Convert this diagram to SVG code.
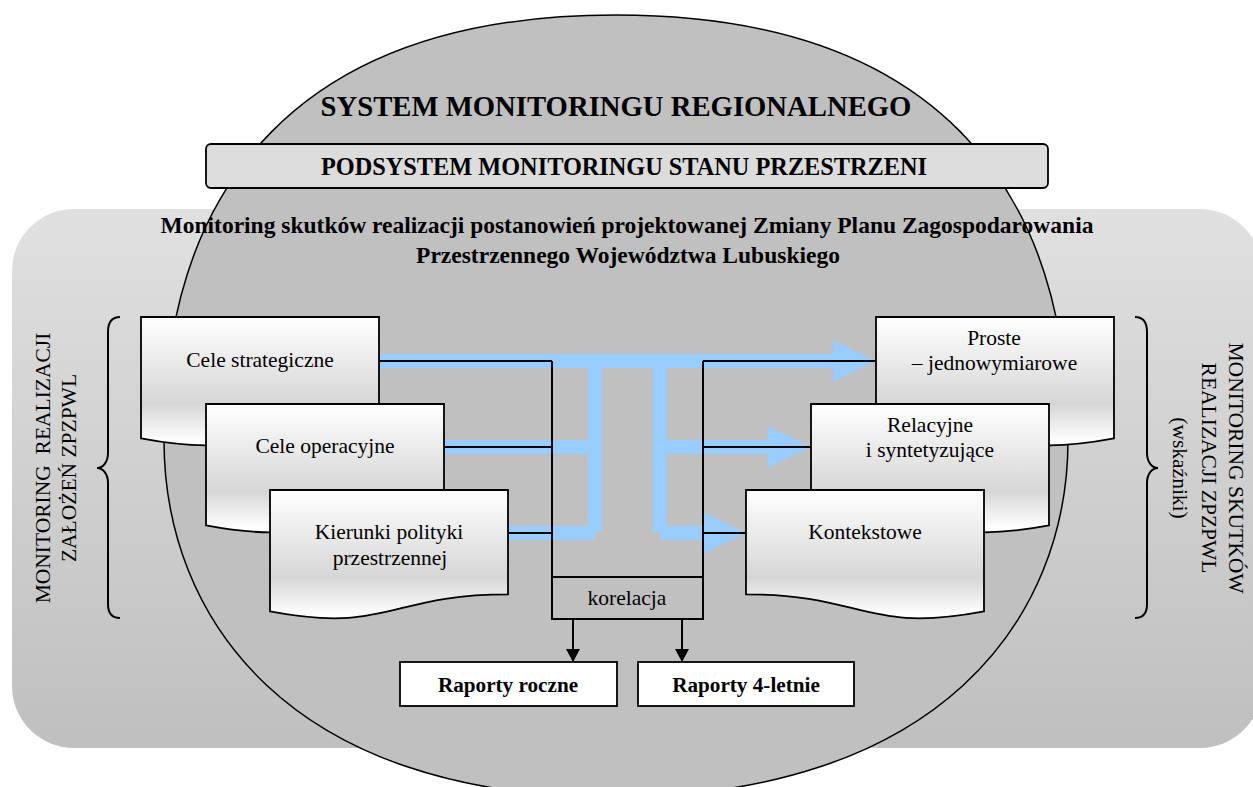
<svg xmlns="http://www.w3.org/2000/svg" width="1253" height="787" viewBox="0 0 1253 787">
<style>
text{font-family:"Liberation Serif","Times New Roman",serif;fill:#000}
.b{font-weight:bold}
.doc{stroke:#000;stroke-width:1.8;fill:url(#docg)}
.band{fill:#99ccff}
.ln{stroke:#000;stroke-width:2;fill:none}
.t{font-size:21.5px;text-anchor:middle}
.side{font-size:21.5px;text-anchor:middle;white-space:pre}
</style>
<defs>
<linearGradient id="bgg" x1="0" y1="0" x2="0" y2="1">
<stop offset="0" stop-color="#e0e0e0"/>
<stop offset="1" stop-color="#bfbfbf"/>
</linearGradient>
<linearGradient id="docg" x1="0" y1="0" x2="0" y2="1">
<stop offset="0" stop-color="#ffffff"/>
<stop offset="0.68" stop-color="#d6d6d6"/>
<stop offset="0.97" stop-color="#ffffff"/>
</linearGradient>
<marker id="ah" markerUnits="userSpaceOnUse" markerWidth="14" markerHeight="14" refX="13" refY="7" orient="auto">
<path d="M0,0 L13,7 L0,14 Z" fill="#000"/>
</marker>
</defs>

<g id="background">
<rect x="12" y="209" width="1250" height="539" rx="62" ry="62" fill="url(#bgg)"/>
<path d="M616,15 C932,15 1068,185 1068,440 C1068,618.5 940,797 612,797 C289,797 164,618.5 164,440 C164,185 300,15 616,15 Z" fill="#c0c0c0" stroke="#000" stroke-width="1.5"/>
</g>

<g id="title">
<text class="b" x="616" y="116" font-size="28.7" text-anchor="middle">SYSTEM MONITORINGU REGIONALNEGO</text>
</g>

<g id="podsystem">
<rect x="206" y="144" width="842" height="44" rx="5" ry="5" fill="#dcdcdc" stroke="#000" stroke-width="1.8"/>
<text class="b" x="624" y="175" font-size="24.3" text-anchor="middle">PODSYSTEM MONITORINGU STANU PRZESTRZENI</text>
</g>

<g id="heading">
<text class="b" x="627" y="233" font-size="23.5" text-anchor="middle">Monitoring skutków realizacji postanowień projektowanej Zmiany Planu Zagospodarowania</text>
<text class="b" x="628" y="263" font-size="23.5" text-anchor="middle">Przestrzennego Województwa Lubuskiego</text>
</g>

<g id="connectors">
<rect class="band" x="379" y="354" width="454" height="14"/>
<rect class="band" x="588" y="354" width="14" height="178"/>
<rect class="band" x="653" y="354" width="14" height="178"/>
<rect class="band" x="444" y="440" width="144" height="14"/>
<rect class="band" x="508" y="526" width="87" height="14"/>
<rect class="band" x="667" y="440" width="101" height="14"/>
<rect class="band" x="660" y="526" width="43" height="14"/>
<polygon class="band" points="833,340 876,361 833,382"/>
<polygon class="band" points="768,426 811,447 768,468"/>
<polygon class="band" points="703,512 746,533 703,554"/>
<path class="ln" d="M379,361 H552 M444,447 H552 M508,533 H552 M703,361 H876 M703,447 H811 M703,533 H746"/>
<path class="ln" d="M552,361 V619 H703 V361 M552,577 H703"/>
<line class="ln" x1="573" y1="619" x2="573" y2="662" marker-end="url(#ah)"/>
<line class="ln" x1="682" y1="619" x2="682" y2="662" marker-end="url(#ah)"/>
<path class="ln" stroke-width="1.5" d="M120,317 C112,317 108,322 108,332 L108,453 C108,462 103,468 97,468 C103,468 108,474 108,483 L108,604 C108,614 112,618 120,618"/>
<path class="ln" stroke-width="1.5" d="M1135,317 C1143,317 1147,322 1147,332 L1147,453 C1147,462 1152,468 1158,468 C1152,468 1147,474 1147,483 L1147,604 C1147,614 1143,618 1135,618"/>
</g>

<g id="korelacja">
<text class="t" x="627" y="605">korelacja</text>
</g>

<g id="cele-strategiczne">
<path class="doc" d="M141,317 H379 V421.3 C260,421.3 260,460.9 141,438.4 Z"/>
<text class="t" x="260" y="367">Cele strategiczne</text>
</g>
<g id="cele-operacyjne">
<path class="doc" d="M206,404 H444 V508.3 C325,508.3 325,547.9 206,525.4 Z"/>
<text class="t" x="325" y="453">Cele operacyjne</text>
</g>
<g id="kierunki">
<path class="doc" d="M270,490 H508 V594.3 C389,594.3 389,633.9 270,611.4 Z"/>
<text class="t" x="389" y="539">Kierunki polityki</text>
<text class="t" x="390" y="565">przestrzennej</text>
</g>

<g id="proste">
<path class="doc" d="M876,317 H1114 V438.4 C995,460.9 995,421.3 876,421.3 Z"/>
<text class="t" x="994" y="345">Proste</text>
<text class="t" x="994.5" y="370">– jednowymiarowe</text>
</g>
<g id="relacyjne">
<path class="doc" d="M811,404 H1049 V525.4 C930,547.9 930,508.3 811,508.3 Z"/>
<text class="t" x="930" y="432">Relacyjne</text>
<text class="t" x="930" y="457">i syntetyzujące</text>
</g>
<g id="kontekstowe">
<path class="doc" d="M746,490 H984 V611.4 C865,633.9 865,594.3 746,594.3 Z"/>
<text class="t" x="865" y="539">Kontekstowe</text>
</g>

<g id="raporty-roczne">
<rect x="400" y="662" width="217" height="44" fill="#fff" stroke="#000" stroke-width="1.8"/>
<text class="b" x="508" y="692" font-size="21.2" text-anchor="middle">Raporty roczne</text>
</g>
<g id="raporty-4-letnie">
<rect x="638" y="662" width="216" height="44" fill="#fff" stroke="#000" stroke-width="1.8"/>
<text class="b" x="746" y="692" font-size="21.2" text-anchor="middle">Raporty 4-letnie</text>
</g>

<g id="left-label">
<text class="side" transform="translate(50 468) rotate(-90)">MONITORING  REALIZACJI</text>
<text class="side" transform="translate(76 468) rotate(-90)">ZAŁOŻEŃ ZPZPWL</text>
</g>

<g id="right-label">
<text class="side" transform="translate(1229 468) rotate(90)">MONITORING SKUTKÓW</text>
<text class="side" transform="translate(1202 468) rotate(90)">REALIZACJI ZPZPWL</text>
<text class="side" transform="translate(1173 468) rotate(90)">(wskaźniki)</text>
</g>
</svg>
